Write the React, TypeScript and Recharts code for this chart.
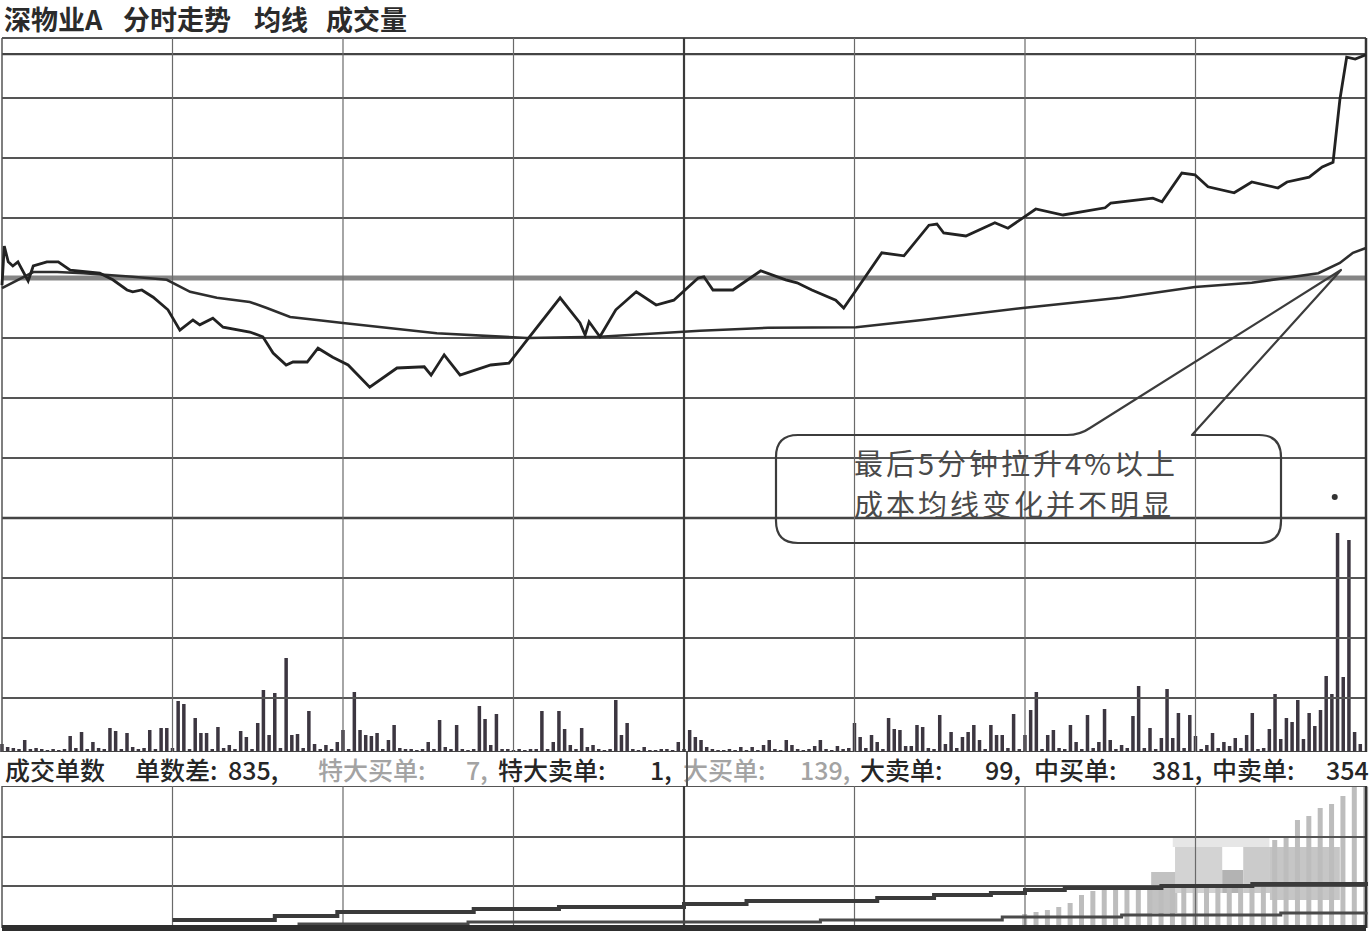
import React from "react";
import {
  ComposedChart,
  Line,
  Bar,
  XAxis,
  YAxis,
  ReferenceLine,
  ReferenceArea,
  ReferenceDot,
} from "recharts";

// price line vertices: minute of session, % change vs previous close
const priceMinutes = [
  0, 0.4, 1.1, 1.9, 2.8, 4.6, 5.5, 7.9, 9.9, 12,
  17.2, 19.5, 22, 23, 24.6, 26.6, 29.2, 31.3, 33.6, 34.8,
  37.1, 38.9, 43.6, 45.9, 47.7, 50, 51.2, 53.7, 55.6, 58.2,
  60.9, 64.7, 69.5, 74.3, 75.5, 77.8, 80.6, 86, 89.2, 92.4,
  98.2, 101.7, 102.6, 103.3, 105.2, 108, 111.6, 115.1, 118.2, 122.5,
  123.5, 125.1, 128.6, 133.5, 137.9, 139.9, 142.5, 146.7, 148.1, 150.3,
  154.8, 158.7, 163.1, 164.5, 165.7, 169.6, 174.7, 177, 181.9, 186.7,
  194.1, 195.1, 202.5, 204.1, 207.6, 209.9, 212.2, 216.8, 219.9, 224.5,
  226.1, 230, 232.3, 234.2, 235.4, 236.6, 238.1, 240,
];
const priceChange = [
  -0.12, 0.53, 0.27, 0.2, 0.27, -0.05, 0.2, 0.27, 0.27, 0.13,
  0.08, -0.03, -0.2, -0.23, -0.2, -0.32, -0.53, -0.87, -0.7, -0.78,
  -0.67, -0.82, -0.9, -0.98, -1.25, -1.45, -1.4, -1.4, -1.17, -1.32,
  -1.45, -1.82, -1.5, -1.48, -1.62, -1.28, -1.62, -1.45, -1.42, -1.03,
  -0.33, -0.75, -0.95, -0.73, -0.98, -0.53, -0.23, -0.45, -0.37, 0,
  0.02, -0.2, -0.2, 0.12, -0.03, -0.08, -0.2, -0.37, -0.5, -0.2,
  0.42, 0.37, 0.88, 0.9, 0.75, 0.7, 0.92, 0.83, 1.15, 1.05,
  1.17, 1.25, 1.33, 1.27, 1.75, 1.72, 1.52, 1.42, 1.6, 1.5,
  1.6, 1.68, 1.85, 1.93, 2.97, 3.68, 3.65, 3.72,
];

// average (cost) line
const avgMinutes = [
  0, 5.5, 9.7, 14.3, 23, 29, 33.1, 37.8, 43.6, 46.6, 50.7, 55.4, 60, 76.5,
  92.4, 105.2, 122.8, 134.8, 150.3, 161.9, 179.6, 196.7, 209.9, 219.9, 231.6,
  235.4, 237.7, 240,
];
const avgChange = [
  -0.17, 0.1, 0.1, 0.08, 0.02, -0.03, -0.23, -0.33, -0.4, -0.5, -0.65, -0.7,
  -0.75, -0.92, -1, -0.98, -0.88, -0.83, -0.82, -0.7, -0.5, -0.33, -0.15,
  -0.08, 0.08, 0.25, 0.42, 0.5,
];

// volume per minute (0..240)
const volumeByMinute = [
  8, 5, 4, 3, 12, 3, 4, 3, 2, 3,
  2, 3, 16, 4, 20, 3, 10, 4, 3, 24,
  21, 3, 19, 5, 3, 4, 22, 3, 24, 24,
  4, 51, 48, 3, 34, 19, 19, 3, 25, 4,
  7, 3, 21, 15, 3, 29, 62, 17, 59, 4,
  94, 17, 18, 4, 41, 8, 3, 7, 3, 10,
  22, 3, 60, 22, 17, 16, 19, 3, 12, 27,
  4, 3, 3, 2, 3, 10, 3, 32, 5, 3,
  27, 3, 2, 3, 46, 33, 7, 38, 3, 3,
  2, 3, 2, 3, 3, 41, 3, 10, 41, 23,
  7, 3, 24, 5, 7, 3, 2, 3, 52, 17,
  29, 3, 2, 5, 2, 2, 3, 3, 2, 10,
  3, 22, 15, 12, 5, 3, 2, 2, 3, 2,
  5, 2, 5, 2, 7, 12, 3, 2, 12, 7,
  3, 2, 3, 6, 12, 3, 2, 6, 3, 4,
  29, 15, 4, 17, 10, 3, 34, 23, 22, 6,
  6, 27, 25, 4, 3, 37, 8, 20, 4, 15,
  20, 27, 12, 3, 27, 17, 17, 4, 38, 3,
  17, 42, 60, 3, 17, 22, 4, 3, 27, 10,
  3, 37, 4, 10, 43, 12, 3, 7, 4, 36,
  66, 4, 24, 3, 14, 63, 14, 39, 4, 37,
  16, 3, 7, 19, 4, 10, 6, 14, 4, 17,
  39, 3, 4, 23, 58, 13, 34, 30, 52, 13,
  39, 26, 42, 76, 58, 219, 75, 212, 20, 8,
  0,
];
const volumePeakMinute = 234.5;
const volumePeakMark = 255;

// lower panel: cumulative order counts and bars
const bigBuyMinutes = [30, 48, 59, 83, 98, 120, 131, 150, 154, 164, 174, 180, 187, 204, 220, 240];
const bigBuyCount = [8, 12, 16, 19, 21, 24, 27, 27, 30, 33, 35, 38, 40, 42, 44, 46];
const bigSellMinutes = [52, 82, 119, 144, 176, 197, 225, 240];
const bigSellCount = [4, 6, 6, 8, 11, 13, 15, 16];
const orderBarMinutes = [
  180, 182, 184, 186, 188, 190, 192, 194, 196, 198, 200, 202, 204, 206, 208,
  210, 212, 214, 216, 218, 220, 222, 224, 226, 228, 230, 232, 234, 236, 238, 240,
];
const orderBarValues = [
  14, 16, 18, 21, 25, 33, 37, 40, 38, 40, 41, 40, 42, 40, 42,
  41, 42, 43, 42, 43, 44, 45, 88, 92, 108, 112, 120, 124, 132, 141, 141,
];

// texts
const titleParts = [
  { x: 4, text: "深物业A" },
  { x: 123, text: "分时走势" },
  { x: 254, text: "均线" },
  { x: 326, text: "成交量" },
];
const statParts = [
  { x: 5, text: "成交单数", faded: false },
  { x: 135, text: "单数差:", faded: false },
  { x: 228, text: "835,", faded: false },
  { x: 318, text: "特大买单:", faded: true },
  { x: 466, text: "7,", faded: true },
  { x: 498, text: "特大卖单:", faded: false },
  { x: 650, text: "1,", faded: false },
  { x: 683, text: "大买单:", faded: true },
  { x: 800, text: "139,", faded: true },
  { x: 860, text: "大卖单:", faded: false },
  { x: 985, text: "99,", faded: false },
  { x: 1034, text: "中买单:", faded: false },
  { x: 1152, text: "381,", faded: false },
  { x: 1212, text: "中卖单:", faded: false },
  { x: 1326, text: "354", faded: false },
];
const noteLines = ["最后5分钟拉升4%以上", "成本均线变化并不明显"];

const timeGrid = [30, 60, 90, 150, 180, 210];
const priceGrid = [4, 3, 2, 1, -1, -2, -3, -5, -6, -7];

const priceData = priceMinutes.map((t, i) => ({ t, p: priceChange[i] }));
const avgData = avgMinutes.map((t, i) => ({ t, a: avgChange[i] }));
const volumeData = volumeByMinute.map((v, i) => ({ t: i, vol: v }));
const buyData = bigBuyMinutes.map((t, i) => ({ t, c: bigBuyCount[i] }));
const sellData = bigSellMinutes.map((t, i) => ({ t, c: bigSellCount[i] }));
const orderBarData = orderBarMinutes.map((t, i) => ({ t, v: orderBarValues[i] }));

// pixelated watermark patches in the lower panel
const mosaic = [
  { x1: 206, x2: 223, y1: 81, y2: 90, fill: "#e6e6e6" },
  { x1: 202.2, x2: 206.8, y1: 15, y2: 56, fill: "#c2c2c2" },
  { x1: 206.4, x2: 214.7, y1: 35, y2: 81, fill: "#d3d3d3" },
  { x1: 214.7, x2: 218.4, y1: 35, y2: 58, fill: "#b3b3b3" },
  { x1: 218.4, x2: 223.1, y1: 35, y2: 81, fill: "#cbcbcb" },
  { x1: 223.1, x2: 235.4, y1: 28, y2: 81, fill: "#c6c6c6" },
];

const FONT = "'Noto Sans CJK SC', sans-serif";

// fixed-width stick centred on the bar slot
const stick = (w: number, color: string) => (props: any) => {
  const { x, y, width, height } = props;
  if (!height || height <= 0) return <g />;
  const cx = x + width / 2;
  return <rect x={cx - w / 2} y={y} width={w} height={height} fill={color} />;
};

const App = () => {
  return (
    <div
      style={{
        position: "absolute",
        left: 0,
        top: 0,
        width: 1370,
        height: 932,
        background: "#fff",
        overflow: "hidden",
        fontFamily: FONT,
      }}
    >
      {titleParts.map((p) => (
        <div
          key={p.text}
          style={{
            position: "absolute",
            left: p.x,
            top: 2,
            fontSize: 27,
            lineHeight: "34px",
            fontWeight: 700,
            color: "#2b2b2b",
            whiteSpace: "nowrap",
          }}
        >
          {p.text}
        </div>
      ))}

      <div style={{ position: "absolute", left: 0, top: 0 }}>
        <ComposedChart
          width={1370}
          height={752}
          data={volumeData}
          margin={{ top: 38, right: 4, bottom: 0, left: 2 }}
        >
          <XAxis dataKey="t" type="number" domain={[0, 240]} hide />
          <YAxis yAxisId="price" domain={[-7.9, 4]} hide />
          <YAxis yAxisId="vol" domain={[0, 714]} hide />
          {priceGrid.map((v) => (
            <ReferenceLine key={v} yAxisId="price" y={v} stroke="#555" strokeWidth={1.8} />
          ))}
          <ReferenceLine yAxisId="price" y={3.73} stroke="#444" strokeWidth={2.2} />
          <ReferenceLine yAxisId="price" y={-4} stroke="#444" strokeWidth={2.4} />
          <ReferenceLine yAxisId="price" y={0} stroke="#858585" strokeWidth={5} />
          <ReferenceLine yAxisId="price" y={-7.9} stroke="#444" strokeWidth={2} />
          {timeGrid.map((t) => (
            <ReferenceLine key={t} yAxisId="price" x={t} stroke="#6a6a6a" strokeWidth={1.2} />
          ))}
          <ReferenceLine yAxisId="price" x={120} stroke="#3a3a3a" strokeWidth={2.2} />
          <ReferenceLine yAxisId="price" x={0} stroke="#555" strokeWidth={1.5} />
          <ReferenceLine yAxisId="price" x={240} stroke="#333" strokeWidth={2.5} />
          <Bar
            yAxisId="vol"
            dataKey="vol"
            barSize={4}
            fill="#3c3640"
            shape={stick(3.5, "#3c3640")}
            isAnimationActive={false}
          />
          <Line
            yAxisId="price"
            data={avgData}
            dataKey="a"
            type="linear"
            stroke="#2e2e2e"
            strokeWidth={2.6}
            dot={false}
            isAnimationActive={false}
          />
          <Line
            yAxisId="price"
            data={priceData}
            dataKey="p"
            type="linear"
            stroke="#222"
            strokeWidth={2.8}
            dot={false}
            isAnimationActive={false}
          />
          <ReferenceDot
            yAxisId="vol"
            x={volumePeakMinute}
            y={volumePeakMark}
            r={3}
            fill="#333"
            stroke="none"
          />
        </ComposedChart>
      </div>

      {statParts.map((p) => (
        <div
          key={p.x}
          style={{
            position: "absolute",
            left: p.x,
            top: 752,
            fontSize: 25,
            lineHeight: "34px",
            fontWeight: 500,
            color: p.faded ? "#a3a3a3" : "#262626",
            whiteSpace: "nowrap",
          }}
        >
          {p.text}
        </div>
      ))}
      <div
        style={{
          position: "absolute",
          left: 686,
          top: 752,
          width: 2,
          height: 34,
          background: "#555",
        }}
      />

      <div style={{ position: "absolute", left: 0, top: 786 }}>
        <ComposedChart
          width={1370}
          height={146}
          data={orderBarData}
          margin={{ top: 0, right: 4, bottom: 4, left: 2 }}
        >
          <XAxis dataKey="t" type="number" domain={[0, 240]} hide />
          <YAxis domain={[0, 142]} hide />
          {mosaic.map((m, i) => (
            <ReferenceArea
              key={i}
              x1={m.x1}
              x2={m.x2}
              y1={m.y1}
              y2={m.y2}
              fill={m.fill}
              fillOpacity={1}
              stroke="none"
            />
          ))}
          <ReferenceLine y={142} stroke="#555" strokeWidth={2} />
          <ReferenceLine y={91} stroke="#555" strokeWidth={1.8} />
          <ReferenceLine y={42} stroke="#555" strokeWidth={1.8} />
          {timeGrid.map((t) => (
            <ReferenceLine key={t} x={t} stroke="#6a6a6a" strokeWidth={1.2} />
          ))}
          <ReferenceLine x={120} stroke="#3a3a3a" strokeWidth={2.2} />
          <ReferenceLine x={0} stroke="#555" strokeWidth={1.5} />
          <ReferenceLine x={240} stroke="#333" strokeWidth={2.5} />
          <Bar
            dataKey="v"
            barSize={5}
            fill="#bdbdbd"
            shape={stick(5, "#bdbdbd")}
            isAnimationActive={false}
          />
          <Line
            data={buyData}
            dataKey="c"
            type="stepAfter"
            stroke="#3a3a3a"
            strokeWidth={4}
            dot={false}
            isAnimationActive={false}
          />
          <Line
            data={sellData}
            dataKey="c"
            type="stepAfter"
            stroke="#4a4a4a"
            strokeWidth={3}
            dot={false}
            isAnimationActive={false}
          />
          <ReferenceLine y={0} stroke="#2e2e2e" strokeWidth={6} />
        </ComposedChart>
      </div>

      <svg
        width={1370}
        height={932}
        style={{ position: "absolute", left: 0, top: 0, pointerEvents: "none" }}
      >
        <path
          d="M 1067 435 Q 1080 435 1090 428 L 1341 270 L 1192 435 L 1259 435 Q 1281 435 1281 457 L 1281 521 Q 1281 543 1259 543 L 798 543 Q 776 543 776 521 L 776 457 Q 776 435 798 435 Z"
          fill="none"
          stroke="#3c3c3c"
          strokeWidth={2.2}
          strokeLinejoin="round"
        />
        {noteLines.map((line, i) => (
          <text
            key={line}
            x={854}
            y={475 + i * 41}
            fontSize={29}
            letterSpacing={3}
            fontFamily={FONT}
            fill="#4a4a4a"
          >
            {line}
          </text>
        ))}
      </svg>
    </div>
  );
};

export default App;
